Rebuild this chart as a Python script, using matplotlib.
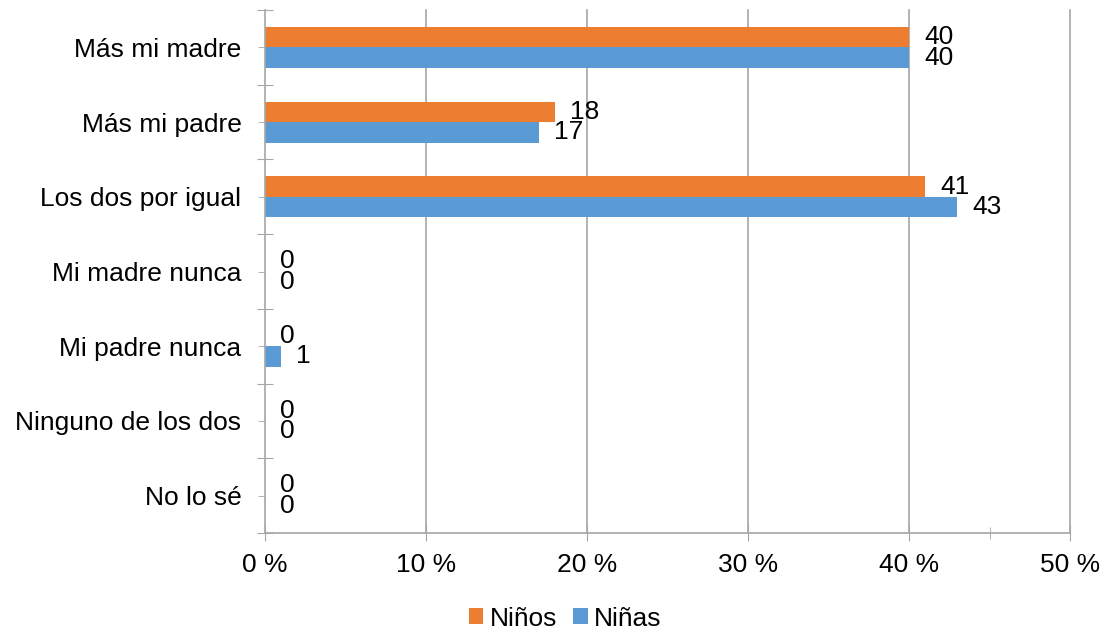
import numpy as np
import matplotlib.pyplot as plt
from matplotlib.ticker import FixedLocator

plt.rcParams["font.family"] = ["Liberation Sans", "DejaVu Sans"]

categories = ["Más mi madre", "Más mi padre", "Los dos por igual", "Mi madre nunca",
              "Mi padre nunca", "Ninguno de los dos", "No lo sé"]
ninos = [40, 18, 41, 0, 0, 0, 0]
ninas = [40, 17, 43, 0, 1, 0, 0]
xticks = [0, 10, 20, 30, 40, 50]
xticklabels = ["0 %", "10 %", "20 %", "30 %", "40 %", "50 %"]

orange = "#ED7D31"
blue = "#5B9BD5"
gray = "#a6a6a6"
fs = 19

fig = plt.figure(figsize=(11.06, 6.34), dpi=100)
ax = fig.add_axes([265 / 1106, 1 - 533 / 634, 805 / 1106, 523 / 634])

y = np.arange(len(categories))
h = 0.275
ax.barh(y - h / 2, ninos, height=h, color=orange, label="Niños")
ax.barh(y + h / 2, ninas, height=h, color=blue, label="Niñas")

for yi, v in zip(y, ninos):
    ax.annotate(str(v), (v, yi - h / 2), xytext=(11, 0), textcoords="offset points",
                va="center", ha="left", fontsize=fs)
for yi, v in zip(y, ninas):
    ax.annotate(str(v), (v, yi + h / 2), xytext=(11, 0), textcoords="offset points",
                va="center", ha="left", fontsize=fs)

ax.set_xlim(0, 50)
ax.set_ylim(len(categories) - 0.5, -0.5)

# x axis
ax.set_xticks(xticks)
ax.set_xticklabels(xticklabels, fontsize=fs)
ax.xaxis.set_minor_locator(FixedLocator([45]))
ax.tick_params(axis="x", which="major", direction="inout", length=11, color=gray, pad=9)
ax.tick_params(axis="x", which="minor", direction="inout", length=9, color=gray)
for xv in xticks[1:]:
    ax.axvline(xv, color=gray, linewidth=1.2, zorder=0, clip_on=False)

# y axis: boundaries as major ticks, labels on minor ticks
ax.set_yticks(np.arange(-0.5, len(categories), 1.0))
ax.set_yticklabels([])
ax.set_yticks(y, minor=True)
ax.set_yticklabels(categories, minor=True, fontsize=fs)
ax.tick_params(axis="y", which="major", direction="inout", length=11.5, color=gray)
ax.tick_params(axis="y", which="minor", direction="out", length=5, color=gray, pad=12)

for s in ["top", "right"]:
    ax.spines[s].set_visible(False)
for s in ["left", "bottom"]:
    ax.spines[s].set_color(gray)
    ax.spines[s].set_linewidth(1.2)

fig.legend(loc="center", bbox_to_anchor=(0.511, 0.024), ncol=2, frameon=False,
           fontsize=fs, handlelength=0.55, handleheight=0.55, handletextpad=0.25,
           columnspacing=0.6)

fig.savefig("out.png", dpi=100)
